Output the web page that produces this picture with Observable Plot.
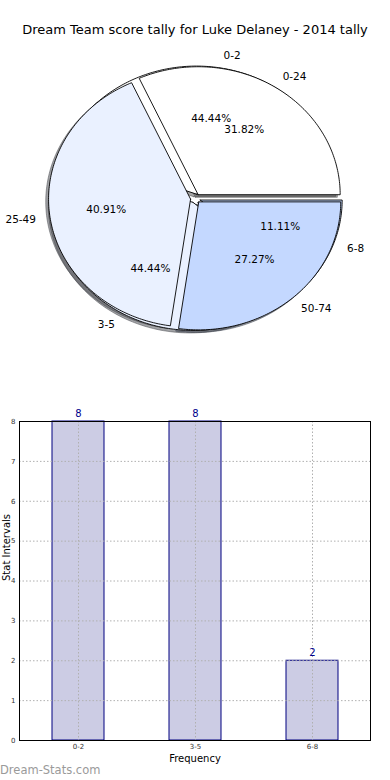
<!DOCTYPE html>
<html>
<head>
<meta charset="utf-8">
<script src="https://cdn.jsdelivr.net/npm/d3@7"></script>
<script src="https://cdn.jsdelivr.net/npm/@observablehq/plot@0.6"></script>
<style>
  html, body { margin: 0; padding: 0; background: #fff; }
  #root { position: relative; width: 390px; height: 780px; overflow: hidden; font-family: "DejaVu Sans", sans-serif; }
  #title { position: absolute; left: 0; top: 22px; width: 390px; text-align: center; font-size: 13px; line-height: 16px; color: #000; }
  #pie { position: absolute; left: 0; top: 0; }
  #bars { position: absolute; left: 0; top: 400px; }
  #mark { position: absolute; left: 0; top: 763px; font-size: 11.5px; line-height: 14px; color: #9a9a9a; }
</style>
</head>
<body>
<div id="root">
  <div id="pie"></div>
  <div id="title">Dream Team score tally for Luke Delaney - 2014 tally</div>
  <div id="bars"></div>
  <div id="mark">Dream-Stats.com</div>
</div>
<script>
// ---- data ----
const titleText = "Dream Team score tally for Luke Delaney - 2014 tally";
const innerLabels = ["0-2", "3-5", "6-8"];
const innerValues = [8, 8, 2];
const outerLabels = ["0-24", "25-49", "50-74"];
const outerValues = [7, 9, 6];
const sliceColors = ["#ffffff", "#eaf1ff", "#c4d8ff"];

const barCats = ["0-2", "3-5", "6-8"];
const barValues = [8, 8, 2];
const yTicks = [0, 1, 2, 3, 4, 5, 6, 7, 8];
const xTitle = "Frequency";
const yTitle = "Stat Intervals";

// ---- pie geometry (matplotlib-like: startangle 0, counterclockwise, exploded) ----
const explode = 0.035, labelDist = 1.1, pctDist = 0.6, shadowOff = -0.02;
function buildPie(labels, values, id) {
  const total = d3.sum(values);
  let acc = 0;
  return values.map((v, i) => {
    const a0 = acc / total * 2 * Math.PI;
    acc += v;
    const a1 = acc / total * 2 * Math.PI;
    const mid = (a0 + a1) / 2;
    const cx = explode * Math.cos(mid), cy = explode * Math.sin(mid);
    const n = Math.max(2, Math.ceil((a1 - a0) / (Math.PI / 180)));
    const pts = [{x: cx, y: cy}];
    for (let k = 0; k <= n; k++) {
      const a = a0 + (a1 - a0) * k / n;
      pts.push({x: cx + Math.cos(a), y: cy + Math.sin(a)});
    }
    pts.push({x: cx, y: cy});
    const shadow = pts.map(p => ({x: p.x + shadowOff, y: p.y + shadowOff}));
    const c = d3.color(sliceColors[i]);
    const sh = d3.rgb(c.r * 0.3, c.g * 0.3, c.b * 0.3).formatHex();
    return {
      id: id + i, label: labels[i], value: v, color: sliceColors[i], shadowColor: sh,
      pts, shadow,
      lx: cx + labelDist * Math.cos(mid), ly: cy + labelDist * Math.sin(mid),
      px: cx + pctDist * Math.cos(mid), py: cy + pctDist * Math.sin(mid),
      pct: (v / total * 100).toFixed(2) + "%"
    };
  });
}
const pieA = buildPie(innerLabels, innerValues, "a");
const pieB = buildPie(outerLabels, outerValues, "b");
const allSlices = pieA.concat(pieB);

const W = 390, H = 360, CX = 195, CY = 198, RX = 142, RY = 128;
const pieMarks = [];
for (const s of allSlices) {
  pieMarks.push(Plot.line(s.shadow, {x: "x", y: "y", fill: s.shadowColor, fillOpacity: 0.5,
    stroke: s.shadowColor, strokeOpacity: 0.5, strokeWidth: 1}));
}
for (const s of allSlices) {
  pieMarks.push(Plot.line(s.pts, {x: "x", y: "y", fill: s.color, stroke: "#000",
    strokeWidth: 0.9, strokeLinejoin: "miter"}));
}
const lbl = allSlices;
pieMarks.push(Plot.text(lbl.filter(d => d.lx > 0), {x: "lx", y: "ly", text: "label", textAnchor: "start", fontSize: 10.5, fill: "#000"}));
pieMarks.push(Plot.text(lbl.filter(d => d.lx <= 0), {x: "lx", y: "ly", text: "label", textAnchor: "end", fontSize: 10.5, fill: "#000"}));
pieMarks.push(Plot.text(lbl, {x: "px", y: "py", text: "pct", fontSize: 10.5, fill: "#000"}));

const pieSvg = Plot.plot({
  width: W, height: H,
  marginTop: 0, marginBottom: 0, marginLeft: 0, marginRight: 0,
  style: {fontFamily: "DejaVu Sans", background: "transparent", overflow: "visible"},
  x: {domain: [-CX / RX, (W - CX) / RX], axis: null},
  y: {domain: [(CY - H) / RY, CY / RY], axis: null},
  marks: pieMarks
});
document.getElementById("pie").appendChild(pieSvg);

// ---- bar chart ----
const bars = barCats.map((c, i) => ({cat: c, value: barValues[i]}));
const gridStyle = {stroke: "#b0b0b0", strokeWidth: 1, strokeDasharray: "1.5,2"};
const barSvg = Plot.plot({
  width: 390, height: 380,
  marginTop: 21, marginBottom: 40, marginLeft: 19, marginRight: 20,
  style: {fontFamily: "DejaVu Sans", background: "transparent", overflow: "visible"},
  x: {type: "band", domain: barCats, paddingInner: 0.556, paddingOuter: 0.278, align: 0.5},
  y: {domain: [0, 8]},
  marks: [
    Plot.barY(bars, {x: "cat", y: "value", fill: "#ccccE4", stroke: "#000080", strokeWidth: 1}),
    Plot.ruleY(yTicks, {y: d => d, ...gridStyle}),
    Plot.ruleX(barCats, {x: d => d, ...gridStyle}),
    Plot.frame({stroke: "#000", strokeWidth: 1}),
    Plot.axisY({ticks: yTicks, tickSize: 0, tickPadding: 4, fontSize: 7, fill: "#333", label: null, tickFormat: d => String(d)}),
    Plot.axisX({tickSize: 0, tickPadding: 4, fontSize: 7, fill: "#333", label: null}),
    Plot.text(bars, {x: "cat", y: "value", text: d => String(d.value), dy: -8, fill: "#00008b", fontSize: 10}),
    Plot.text([xTitle], {frameAnchor: "bottom", dy: 21, fontSize: 10, fill: "#000"}),
    Plot.text([yTitle], {frameAnchor: "left", dx: -13, rotate: -90, fontSize: 10, fill: "#000"})
  ]
});
document.getElementById("bars").appendChild(barSvg);
document.getElementById("title").textContent = titleText;
</script>
</body>
</html>
